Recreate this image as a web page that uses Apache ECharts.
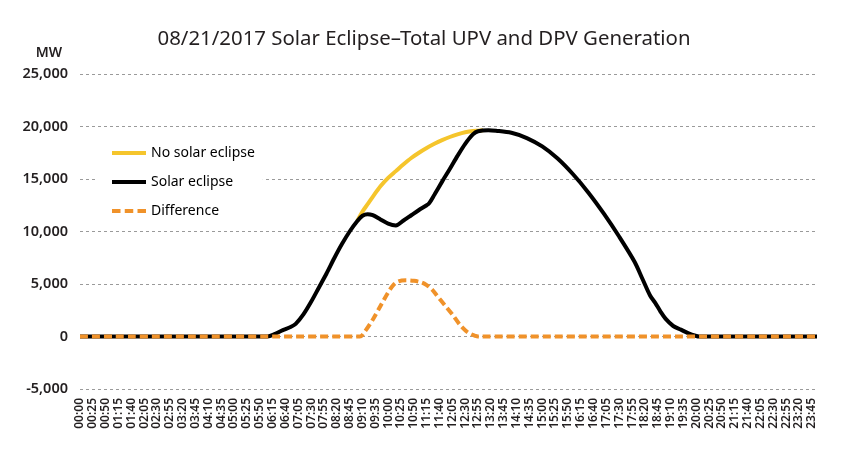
<!DOCTYPE html>
<html>
<head>
<meta charset="utf-8">
<script src="https://cdn.jsdelivr.net/npm/echarts@6/dist/echarts.min.js"></script>
<style>
html,body{margin:0;padding:0;background:#fff;}
#chart{width:848px;height:462px;}
</style>
</head>
<body>
<div id="chart"></div>
<script>
// Categories: 5-minute intervals through the day
const timeCategories = [];
for (let m = 0; m < 24 * 60; m += 5) {
  const h = String(Math.floor(m / 60)).padStart(2, '0');
  const mm = String(m % 60).padStart(2, '0');
  timeCategories.push(h + ':' + mm);
}

const yTicks = [-5000, 0, 5000, 10000, 15000, 20000, 25000];

// Solar eclipse (actual) generation, MW
const solarEclipse = [
  ['00:00', 0], ['06:05', 0], ['06:20', 250], ['06:35', 600], ['06:50', 900],
  ['07:00', 1200], ['07:15', 2100], ['07:30', 3300], ['07:45', 4650],
  ['08:00', 6000], ['08:15', 7450], ['08:30', 8800], ['08:45', 10000],
  ['09:00', 11000], ['09:10', 11500], ['09:20', 11650], ['09:30', 11550],
  ['09:45', 11150], ['10:00', 10750], ['10:15', 10580], ['10:30', 11050],
  ['10:45', 11550], ['11:00', 12050], ['11:15', 12500], ['11:20', 12700],
  ['11:30', 13500], ['11:45', 14750], ['12:00', 15950], ['12:15', 17200],
  ['12:30', 18350], ['12:45', 19250], ['12:55', 19550], ['13:15', 19650],
  ['13:30', 19600], ['14:00', 19400], ['14:30', 18900], ['15:00', 18100],
  ['15:30', 16950], ['16:00', 15450], ['16:30', 13700], ['17:00', 11700],
  ['17:30', 9500], ['18:00', 7100], ['18:15', 5500], ['18:30', 3900],
  ['18:40', 3200], ['18:50', 2400], ['19:00', 1700], ['19:15', 1000],
  ['19:30', 650], ['19:45', 300], ['20:00', 50], ['20:05', 0], ['23:55', 0]
];

// No solar eclipse (expected) generation, MW – the portion where it differs
const noSolarEclipse = [
  ['09:00', 11000], ['09:10', 11900], ['09:20', 12600], ['09:30', 13300],
  ['09:45', 14300], ['10:00', 15100], ['10:15', 15750], ['10:30', 16400],
  ['10:45', 17000], ['11:00', 17500], ['11:15', 17950], ['11:30', 18350],
  ['11:45', 18700], ['12:00', 19000], ['12:15', 19250], ['12:30', 19450],
  ['12:45', 19580], ['12:55', 19600], ['13:05', 19650]
];

// Difference, MW
const difference = [
  ['00:00', 0], ['09:05', 0], ['09:15', 500], ['09:30', 1600], ['09:45', 2900],
  ['10:00', 4200], ['10:10', 4900], ['10:20', 5250], ['10:35', 5350],
  ['10:50', 5300], ['11:05', 5150], ['11:15', 4900], ['11:25', 4500],
  ['11:35', 3900], ['11:50', 3000], ['12:05', 2100], ['12:20', 1100],
  ['12:35', 400], ['12:50', 50], ['12:55', 0], ['23:55', 0]
];

const FONT = 'Noto Sans';
const SOLID_ICON = 'path://M0,0H32V4H0Z';
const DASH_ICON = 'path://M0,0H8V4H0Z M12,0H20V4H12Z M24,0H32V4H24Z';

const chart = echarts.init(document.getElementById('chart'), null, { renderer: 'canvas' });
chart.setOption({
  backgroundColor: '#fff',
  animation: false,
  textStyle: { fontFamily: FONT },
  title: {
    text: '08/21/2017 Solar Eclipse\u2013Total UPV and DPV Generation',
    left: 'center', top: 24,
    textStyle: { fontFamily: FONT, fontSize: 20.4, fontWeight: 'normal', color: '#231f20' }
  },
  legend: {
    orient: 'vertical', left: 96, top: 140,
    padding: [6, 8, 6, 16],
    backgroundColor: '#fff',
    itemWidth: 34, itemHeight: 4, itemGap: 15,
    symbolKeepAspect: false,
    textStyle: { fontFamily: FONT, fontSize: 14, lineHeight: 14, color: '#000' },
    data: [
      { name: 'No solar eclipse', icon: SOLID_ICON },
      { name: 'Solar eclipse', icon: SOLID_ICON },
      { name: 'Difference', icon: DASH_ICON }
    ]
  },
  grid: { left: 80, right: 31, top: 74, bottom: 73, containLabel: false },
  xAxis: {
    type: 'category', data: timeCategories, boundaryGap: false,
    axisLine: { show: false }, axisTick: { show: false },
    axisLabel: { interval: 4, rotate: 90, fontSize: 12, fontWeight: 600, color: '#231f20', margin: 9, fontFamily: FONT },
    splitLine: { show: false }
  },
  yAxis: {
    type: 'value', min: yTicks[0], max: yTicks[yTicks.length - 1], interval: 5000,
    name: 'MW', nameLocation: 'end', nameGap: 14,
    nameTextStyle: { align: 'right', verticalAlign: 'bottom', padding: [0, 18, 0, 0], fontSize: 14, fontWeight: 600, color: '#231f20', fontFamily: FONT },
    axisLine: { show: false }, axisTick: { show: false },
    axisLabel: {
      fontSize: 14.5, fontWeight: 600, color: '#231f20', margin: 12, fontFamily: FONT,
      formatter: v => v.toLocaleString('en-US')
    },
    splitLine: { show: true, lineStyle: { color: '#9a9a9a', type: [3, 3], width: 1 } }
  },
  series: [
    {
      name: 'No solar eclipse', type: 'line', data: noSolarEclipse,
      showSymbol: false, symbol: 'none', smooth: 0.3, z: 2,
      lineStyle: { color: '#F5C52C', width: 4 }, itemStyle: { color: '#F5C52C' }
    },
    {
      name: 'Solar eclipse', type: 'line', data: solarEclipse,
      showSymbol: false, symbol: 'none', smooth: 0.3, z: 3,
      lineStyle: { color: '#000', width: 4 }, itemStyle: { color: '#000' }
    },
    {
      name: 'Difference', type: 'line', data: difference,
      showSymbol: false, symbol: 'none', smooth: 0.3, z: 4,
      lineStyle: { color: '#F0922A', width: 4, type: [8, 4] }, itemStyle: { color: '#F0922A' }
    }
  ]
});
</script>
</body>
</html>
